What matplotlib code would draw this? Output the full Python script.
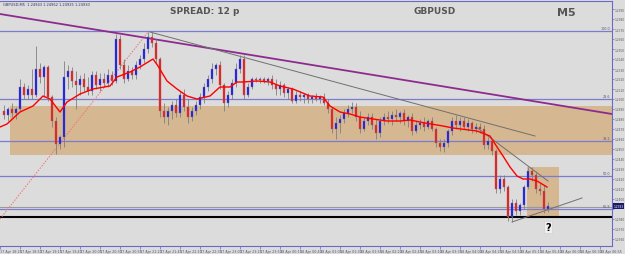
import numpy as np
import matplotlib
matplotlib.use("Agg")
import matplotlib.pyplot as plt
from matplotlib.patches import Rectangle
from datetime import datetime, timedelta

# ---------------- data (GBPUSD, M5) ----------------
open_first = 1.2488
closes = [1.2484, 1.2490, 1.2486, 1.2490, 1.2512, 1.2504, 1.2510, 1.2504, 1.2530, 1.2522,
          1.2532, 1.2502, 1.2478, 1.2455, 1.2462, 1.2522, 1.2528, 1.2518, 1.2514, 1.2520,
          1.2512, 1.2508, 1.2524, 1.2514, 1.2520, 1.2516, 1.2524, 1.2518, 1.2560, 1.2534,
          1.2520, 1.2528, 1.2524, 1.2534, 1.2540, 1.2550, 1.2562, 1.2556, 1.2540, 1.2488,
          1.2482, 1.2488, 1.2494, 1.2486, 1.2504, 1.2492, 1.2482, 1.2488, 1.2494, 1.2502,
          1.2512, 1.2520, 1.2530, 1.2534, 1.2514, 1.2496, 1.2504, 1.2516, 1.2530, 1.2540,
          1.2504, 1.2512, 1.2520, 1.2519, 1.2520, 1.2518, 1.2520, 1.2514, 1.2510, 1.2514,
          1.2506, 1.2510, 1.2498, 1.2504, 1.2502, 1.2504, 1.2500, 1.2502, 1.2500, 1.2502,
          1.2496, 1.2490, 1.2470, 1.2476, 1.2480, 1.2486, 1.2490, 1.2492, 1.2482, 1.2470,
          1.2478, 1.2482, 1.2474, 1.2466, 1.2478, 1.2482, 1.2480, 1.2484, 1.2482, 1.2486,
          1.2478, 1.2482, 1.2468, 1.2474, 1.2476, 1.2472, 1.2478, 1.2470, 1.2456, 1.2452,
          1.2456, 1.2468, 1.2478, 1.2474, 1.2478, 1.2472, 1.2476, 1.2470, 1.2472, 1.2470,
          1.2454, 1.2458, 1.2448, 1.2410, 1.2420, 1.2412, 1.2382, 1.2396, 1.2388, 1.2394,
          1.2412, 1.2428, 1.2424, 1.2410, 1.2408, 1.2390, 1.2393]
highs = [1.2494, 1.2492, 1.2496, 1.2492, 1.2520, 1.2516, 1.2514, 1.2530, 1.2553, 1.2536,
         1.2534, 1.2534, 1.2504, 1.2482, 1.2464, 1.2538, 1.2534, 1.2532, 1.2528, 1.2524,
         1.2526, 1.2522, 1.2528, 1.2528, 1.2526, 1.2526, 1.2530, 1.2528, 1.2565, 1.2564,
         1.2540, 1.2534, 1.2532, 1.2538, 1.2544, 1.2556, 1.2567, 1.2567, 1.2560, 1.2542,
         1.2496, 1.2492, 1.2498, 1.2500, 1.2508, 1.2510, 1.2500, 1.2492, 1.2498, 1.2506,
         1.2516, 1.2524, 1.2536, 1.2536, 1.2538, 1.2516, 1.2508, 1.2520, 1.2536, 1.2544,
         1.2544, 1.2516, 1.2522, 1.2522, 1.2522, 1.2522, 1.2522, 1.2524, 1.2520, 1.2518,
         1.2516, 1.2512, 1.2512, 1.2508, 1.2508, 1.2506, 1.2506, 1.2504, 1.2506, 1.2504,
         1.2506, 1.2500, 1.2492, 1.2482, 1.2484, 1.2490, 1.2494, 1.2497, 1.2496, 1.2488,
         1.2482, 1.2486, 1.2486, 1.2480, 1.2482, 1.2486, 1.2488, 1.2488, 1.2490, 1.2488,
         1.2490, 1.2484, 1.2486, 1.2478, 1.2480, 1.2482, 1.2480, 1.2482, 1.2472, 1.2460,
         1.2460, 1.2470, 1.2482, 1.2484, 1.2482, 1.2482, 1.2480, 1.2478, 1.2476, 1.2476,
         1.2474, 1.2462, 1.2460, 1.2450, 1.2424, 1.2424, 1.2414, 1.2400, 1.2400, 1.2396,
         1.2414, 1.2432, 1.2432, 1.2428, 1.2416, 1.2414, 1.2397]
lows = [1.2480, 1.2478, 1.2482, 1.2480, 1.2488, 1.2500, 1.2500, 1.2500, 1.2502, 1.2516,
        1.2502, 1.2498, 1.2472, 1.2445, 1.2450, 1.2452, 1.2510, 1.2512, 1.2490, 1.2504,
        1.2508, 1.2504, 1.2504, 1.2510, 1.2508, 1.2512, 1.2512, 1.2514, 1.2516, 1.2530,
        1.2516, 1.2518, 1.2520, 1.2520, 1.2530, 1.2536, 1.2546, 1.2552, 1.2536, 1.2482,
        1.2476, 1.2474, 1.2480, 1.2482, 1.2482, 1.2488, 1.2476, 1.2478, 1.2484, 1.2490,
        1.2496, 1.2508, 1.2516, 1.2524, 1.2510, 1.2488, 1.2492, 1.2500, 1.2512, 1.2526,
        1.2500, 1.2502, 1.2510, 1.2517, 1.2516, 1.2516, 1.2514, 1.2510, 1.2504, 1.2504,
        1.2502, 1.2500, 1.2496, 1.2496, 1.2498, 1.2496, 1.2496, 1.2496, 1.2498, 1.2496,
        1.2494, 1.2486, 1.2466, 1.2460, 1.2466, 1.2476, 1.2482, 1.2486, 1.2478, 1.2466,
        1.2468, 1.2474, 1.2470, 1.2460, 1.2462, 1.2474, 1.2476, 1.2474, 1.2478, 1.2476,
        1.2474, 1.2472, 1.2464, 1.2466, 1.2470, 1.2468, 1.2470, 1.2468, 1.2452, 1.2448,
        1.2447, 1.2452, 1.2464, 1.2470, 1.2468, 1.2470, 1.2468, 1.2466, 1.2466, 1.2466,
        1.2450, 1.2450, 1.2444, 1.2406, 1.2406, 1.2408, 1.2378, 1.2377, 1.2384, 1.2384,
        1.2390, 1.2410, 1.2418, 1.2406, 1.2404, 1.2386, 1.2387]

# moving average (red line): bar position, price
ma_x = [0, 1.75, 5, 8.25, 10.75, 12.5, 15, 16.75, 20, 23.25, 27.5, 29.25, 32.5, 35, 38.25,
        39.5, 41.75, 44.25, 46.75, 49.25, 52.5, 55, 57.5, 59.25, 60.75, 64.25, 67.5, 70,
        73.25, 77.5, 80.75, 82.5, 85, 87.5, 90, 93.25, 96.75, 100, 102.5, 106.25, 110.75,
        113.25, 119.25, 122.5, 124.25, 125.75, 127.5, 129.25, 130.75, 132.5, 134.25, 136.75]
ma_y = [1.2472, 1.2475, 1.2487, 1.2493, 1.2503, 1.2500, 1.2487, 1.2497, 1.2505, 1.2510,
        1.2513, 1.2522, 1.2527, 1.2532, 1.2540, 1.2533, 1.2518, 1.2510, 1.2503, 1.2500,
        1.2503, 1.2512, 1.2512, 1.2517, 1.2517, 1.2518, 1.2517, 1.2513, 1.2510, 1.2503,
        1.2502, 1.2493, 1.2487, 1.2485, 1.2482, 1.2480, 1.2478, 1.2478, 1.2479, 1.2476,
        1.2473, 1.2471, 1.2468, 1.2463, 1.2452, 1.2443, 1.2432, 1.2423, 1.2420, 1.2420,
        1.2418, 1.2412]

assert len(closes) == len(highs) == len(lows)
assert len(ma_x) == len(ma_y)

# horizontal levels (Fibonacci-style) and drawn objects
fib_levels = [1.2568, 1.2500, 1.2458, 1.2423, 1.2390]
fib_names = ["100.0", "23.6", "38.2", "50.0", "61.8"]
gray_level = 1.2392
support_level = 1.2382
zone1 = (2.5, 153.0, 1.2444, 1.2493)     # x0, x1, low, high
zone2 = (131.75, 139.75, 1.2383, 1.2432)
purple_line = ([0, 153], [1.2585, 1.2485])
trend1 = ([37.5, 133.75], [1.2567, 1.2463])
trend2 = ([119.0, 137.0], [1.2472, 1.2418])
trend3 = ([128.0, 145.5], [1.2377, 1.2401])
red_dotted = ([0, 37.0], [1.2380, 1.2567])
start_time = datetime(2017, 4, 17, 18, 25)
current_price = 1.2393

# ---------------- figure ----------------
n = len(closes)
opens = [open_first] + closes[:-1]
idx = np.arange(1, n + 1)

bg = '#DCDCDC'
fig = plt.figure(figsize=(6.25, 2.55), dpi=100)
fig.patch.set_facecolor(bg)
ax = fig.add_axes([0, 8 / 255, 612 / 625, 245 / 255])
ax.set_facecolor(bg)
ax.set_xlim(0, 153)
ax.set_ylim(1.2353, 1.2598)

tan = '#D5B792'
ax.add_patch(Rectangle((zone1[0], zone1[2]), zone1[1] - zone1[0], zone1[3] - zone1[2],
                       facecolor=tan, edgecolor='none', zorder=0.5))
ax.add_patch(Rectangle((zone2[0], zone2[2]), zone2[1] - zone2[0], zone2[3] - zone2[2],
                       facecolor=tan, edgecolor='none', zorder=0.5))

for lv, nm in zip(fib_levels, fib_names):
    ax.axhline(lv, color='#7B7BD0', lw=0.9, zorder=1)
    ax.text(152.6, lv + 0.00005, nm, fontsize=2.4, color='#555577', ha='right', va='bottom', zorder=5)
ax.axhline(gray_level, color='#9A9A9A', lw=0.8, zorder=1)
ax.axhline(support_level, color='black', lw=1.5, zorder=1)

ax.plot(*red_dotted, color='#F07070', lw=0.7, ls=(0, (1.5, 1.5)), zorder=1.5)
ax.plot(*purple_line, color='#8E2A8E', lw=1.3, zorder=2)
ax.plot(*trend1, color='#707070', lw=0.7, zorder=2)
ax.plot(*trend2, color='#707070', lw=0.7, zorder=2)
ax.plot(*trend3, color='#707070', lw=0.7, zorder=2)

# candles
for x, o, h, l, c in zip(idx, opens, highs, lows, closes):
    ax.vlines(x, l, h, color='#808080', lw=0.6, zorder=3)
    col = '#1010FF' if c >= o else '#FF1010'
    lo, hi = min(o, c), max(o, c)
    ax.add_patch(Rectangle((x - 0.3, lo), 0.6, max(hi - lo, 0.00008),
                           facecolor=col, edgecolor='#7A7A7A', lw=0.3, zorder=4))

ax.plot(ma_x, ma_y, color='#FF0000', lw=1.0, zorder=4.5)

# axes styling
ax.spines['left'].set_visible(False)
for s in ['top', 'right', 'bottom']:
    ax.spines[s].set_color('#6A6AC8')
    ax.spines[s].set_linewidth(0.8)

ax.yaxis.tick_right()
yt = np.round(np.arange(1.2590, 1.2355, -0.0010), 4)
ax.set_yticks(yt)
ax.set_yticklabels(["" if abs(v - current_price) < 0.0006 else f"{v:.4f}" for v in yt])
ax.tick_params(axis='y', labelsize=2.1, colors='#6A6AC8', labelcolor='#555555', length=1.5, pad=0.5, width=0.5)

xt = np.arange(0, 153, 5)
labels = [(start_time + timedelta(minutes=5 * int(k))).strftime("%d %b %H:%M").lstrip('0') for k in xt]
ax.set_xticks(xt)
ax.set_xticklabels(labels)
ax.tick_params(axis='x', labelsize=2.4, colors='#6A6AC8', labelcolor='#555577', length=2, pad=0.5, width=0.5)
for t in ax.get_xticklabels():
    t.set_ha('left')

# texts
fig.text(170 / 625, 1 - 12 / 255, "SPREAD: 12 p", fontsize=6.5, weight='bold', color='#555555',
         ha='left', va='center')
fig.text(414 / 625, 1 - 12 / 255, "GBPUSD", fontsize=6.5, weight='bold', color='#555555',
         ha='left', va='center')
fig.text(557 / 625, 1 - 13 / 255, "M5", fontsize=8, weight='bold', color='#555555',
         ha='left', va='center')
fig.text(3 / 625, 1 - 5 / 255, "GBPUSD,M5  1.24943 1.24962 1.24925 1.24930", fontsize=2.6,
         color='#333366', ha='left', va='center')
ax.text(137, 1.2372, "?", fontsize=7, weight='bold', color='black', ha='center', va='center',
        zorder=6, bbox=dict(boxstyle='square,pad=0.15', facecolor='#EFEFEF', edgecolor='#CCCCCC', lw=0.4))
fig.text(613.5 / 625, 1 - 207 / 255, f"{current_price:.4f}", fontsize=2.1, color='white', ha='left',
         va='center', bbox=dict(boxstyle='square,pad=0.2', facecolor='#1A1A66', edgecolor='none'))

fig.savefig("out.png", dpi=100, facecolor=bg)
